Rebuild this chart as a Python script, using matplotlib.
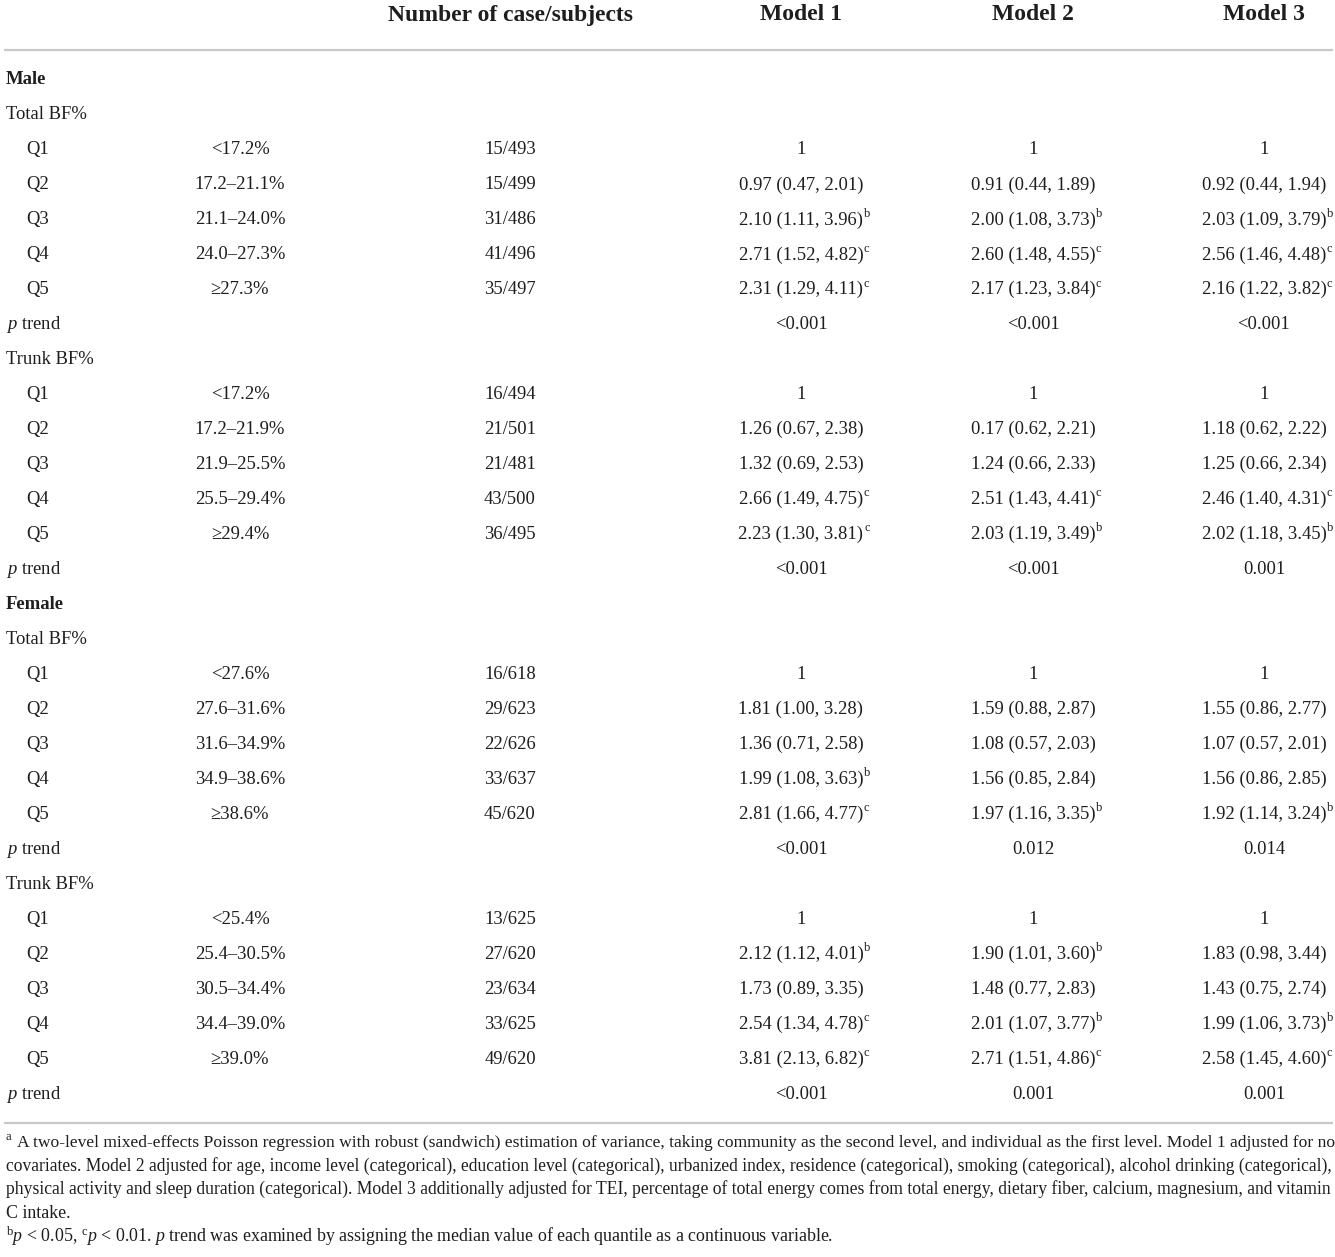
import matplotlib
matplotlib.use('Agg')
import matplotlib.pyplot as plt

plt.rcParams['font.family'] = ['Liberation Serif', 'DejaVu Serif']
plt.rcParams['mathtext.fontset'] = 'custom'
plt.rcParams['mathtext.rm'] = 'Liberation Serif'
plt.rcParams['mathtext.it'] = 'Liberation Serif:italic'
plt.rcParams['mathtext.bf'] = 'Liberation Serif:bold'

# ---------------- data ----------------
columns = ["Number of case/subjects", "Model 1", "Model 2", "Model 3"]
groups = ["Male", "Female"]
measures = ["Total BF%", "Trunk BF%"]
quintiles = ["Q1", "Q2", "Q3", "Q4", "Q5"]

male_total_ranges = ["<17.2%", "17.2–21.1%", "21.1–24.0%", "24.0–27.3%", "≥27.3%"]
male_total_cases = ["15/493", "15/499", "31/486", "41/496", "35/497"]
male_total_m1 = ["1", "0.97 (0.47, 2.01)", "2.10 (1.11, 3.96)^b", "2.71 (1.52, 4.82)^c", "2.31 (1.29, 4.11)^c"]
male_total_m2 = ["1", "0.91 (0.44, 1.89)", "2.00 (1.08, 3.73)^b", "2.60 (1.48, 4.55)^c", "2.17 (1.23, 3.84)^c"]
male_total_m3 = ["1", "0.92 (0.44, 1.94)", "2.03 (1.09, 3.79)^b", "2.56 (1.46, 4.48)^c", "2.16 (1.22, 3.82)^c"]
male_total_ptrend = ["<0.001", "<0.001", "<0.001"]

male_trunk_ranges = ["<17.2%", "17.2–21.9%", "21.9–25.5%", "25.5–29.4%", "≥29.4%"]
male_trunk_cases = ["16/494", "21/501", "21/481", "43/500", "36/495"]
male_trunk_m1 = ["1", "1.26 (0.67, 2.38)", "1.32 (0.69, 2.53)", "2.66 (1.49, 4.75)^c", "2.23 (1.30, 3.81)^c"]
male_trunk_m2 = ["1", "0.17 (0.62, 2.21)", "1.24 (0.66, 2.33)", "2.51 (1.43, 4.41)^c", "2.03 (1.19, 3.49)^b"]
male_trunk_m3 = ["1", "1.18 (0.62, 2.22)", "1.25 (0.66, 2.34)", "2.46 (1.40, 4.31)^c", "2.02 (1.18, 3.45)^b"]
male_trunk_ptrend = ["<0.001", "<0.001", "0.001"]

female_total_ranges = ["<27.6%", "27.6–31.6%", "31.6–34.9%", "34.9–38.6%", "≥38.6%"]
female_total_cases = ["16/618", "29/623", "22/626", "33/637", "45/620"]
female_total_m1 = ["1", "1.81 (1.00, 3.28)", "1.36 (0.71, 2.58)", "1.99 (1.08, 3.63)^b", "2.81 (1.66, 4.77)^c"]
female_total_m2 = ["1", "1.59 (0.88, 2.87)", "1.08 (0.57, 2.03)", "1.56 (0.85, 2.84)", "1.97 (1.16, 3.35)^b"]
female_total_m3 = ["1", "1.55 (0.86, 2.77)", "1.07 (0.57, 2.01)", "1.56 (0.86, 2.85)", "1.92 (1.14, 3.24)^b"]
female_total_ptrend = ["<0.001", "0.012", "0.014"]

female_trunk_ranges = ["<25.4%", "25.4–30.5%", "30.5–34.4%", "34.4–39.0%", "≥39.0%"]
female_trunk_cases = ["13/625", "27/620", "23/634", "33/625", "49/620"]
female_trunk_m1 = ["1", "2.12 (1.12, 4.01)^b", "1.73 (0.89, 3.35)", "2.54 (1.34, 4.78)^c", "3.81 (2.13, 6.82)^c"]
female_trunk_m2 = ["1", "1.90 (1.01, 3.60)^b", "1.48 (0.77, 2.83)", "2.01 (1.07, 3.77)^b", "2.71 (1.51, 4.86)^c"]
female_trunk_m3 = ["1", "1.83 (0.98, 3.44)", "1.43 (0.75, 2.74)", "1.99 (1.06, 3.73)^b", "2.58 (1.45, 4.60)^c"]
female_trunk_ptrend = ["<0.001", "0.001", "0.001"]

footnote_lines = [
    "A two-level mixed-effects Poisson regression with robust (sandwich) estimation of variance, taking community as the second level, and individual as the first level. Model 1 adjusted for no",
    "covariates. Model 2 adjusted for age, income level (categorical), education level (categorical), urbanized index, residence (categorical), smoking (categorical), alcohol drinking (categorical),",
    "physical activity and sleep duration (categorical). Model 3 additionally adjusted for TEI, percentage of total energy comes from total energy, dietary fiber, calcium, magnesium, and vitamin",
    "C intake.",
]
footnote_last = r"${}^{\mathrm{b}}p$ < 0.05, ${}^{\mathrm{c}}p$ < 0.01. $p$ trend was examined by assigning the median value of each quantile as a continuous variable."

blocks = [
    ("Male", "Total BF%", male_total_ranges, male_total_cases, [male_total_m1, male_total_m2, male_total_m3], male_total_ptrend),
    ("Male", "Trunk BF%", male_trunk_ranges, male_trunk_cases, [male_trunk_m1, male_trunk_m2, male_trunk_m3], male_trunk_ptrend),
    ("Female", "Total BF%", female_total_ranges, female_total_cases, [female_total_m1, female_total_m2, female_total_m3], female_total_ptrend),
    ("Female", "Trunk BF%", female_trunk_ranges, female_trunk_cases, [female_trunk_m1, female_trunk_m2, female_trunk_m3], female_trunk_ptrend),
]

# ---------------- layout ----------------
W, H = 1335, 1257
TXT = '#1e1e1e'
FS = 13.4
FS_HEAD = 17
FS_SUP = 9
FS_FOOT = 12.9

fig = plt.figure(figsize=(W / 100, H / 100), dpi=100)
ax = fig.add_axes([0, 0, 1, 1])
ax.set_xlim(0, W)
ax.set_ylim(H, 0)
ax.axis('off')

x_section = 6
x_q = 26
x_range = 240
x_cols = [510, 801, 1033, 1264]
y_head = 15
y_row0 = 80
dy = 34.97

for x, c in zip(x_cols, columns):
    ax.text(x, y_head, c, fontsize=FS_HEAD, fontweight='bold', ha='center', va='center', color=TXT)

ax.plot([4, 1333], [50, 50], color='#c8c8c8', lw=1.6, solid_capstyle='butt')
ax.plot([4, 1333], [1123, 1123], color='#c8c8c8', lw=1.6, solid_capstyle='butt')


def value_text(x, y, s):
    main, _, sup = s.partition('^')
    t = ax.text(x, y, main, fontsize=FS, ha='center', va='center', color=TXT)
    if sup:
        ax.annotate(sup, xy=(1, 1), xycoords=t, xytext=(0.4, 2.6), textcoords='offset points',
                    fontsize=FS_SUP, ha='left', va='top', color=TXT)


row = 0
last_group = None
for group, measure, ranges, cases, models, ptrend in blocks:
    if group != last_group:
        ax.text(x_section, y_row0 + dy * row, group, fontsize=FS, fontweight='bold', ha='left', va='center', color=TXT)
        row += 1
        last_group = group
    ax.text(x_section, y_row0 + dy * row, measure, fontsize=FS, ha='left', va='center', color=TXT)
    row += 1
    for i, q in enumerate(quintiles):
        y = y_row0 + dy * row
        ax.text(x_q, y, q, fontsize=FS, ha='left', va='center', color=TXT)
        ax.text(x_range, y, ranges[i], fontsize=FS, ha='center', va='center', color=TXT)
        ax.text(x_cols[0], y, cases[i], fontsize=FS, ha='center', va='center', color=TXT)
        for m in range(3):
            value_text(x_cols[m + 1], y, models[m][i])
        row += 1
    y = y_row0 + dy * row
    ax.text(x_section, y, r"$p$ trend", fontsize=FS, ha='left', va='center', color=TXT)
    for m in range(3):
        ax.text(x_cols[m + 1], y, ptrend[m], fontsize=FS, ha='center', va='center', color=TXT)
    row += 1

# ---------------- footnotes ----------------
renderer = fig.canvas.get_renderer()
foot_base = [1147, 1170.5, 1194, 1217.5, 1241.5]
ax.text(6, foot_base[0] - 7, "a", fontsize=FS_SUP, ha='left', va='baseline', color=TXT)


def fitted(line, y, x0, x1):
    # whole line as one text; size nudged so the line ends at the right margin (justified look)
    t = ax.text(x0, y, line, fontsize=FS_FOOT, ha='left', va='baseline', color=TXT)
    w = t.get_window_extent(renderer).width
    t.set_fontsize(FS_FOOT * (x1 - x0) / w)


fitted(footnote_lines[0], foot_base[0], 17, 1330)
fitted(footnote_lines[1], foot_base[1], 6, 1331)
fitted(footnote_lines[2], foot_base[2], 6, 1331)
ax.text(6, foot_base[3], footnote_lines[3], fontsize=FS_FOOT, ha='left', va='baseline', color=TXT)
ax.text(6, foot_base[4], footnote_last, fontsize=FS_FOOT, ha='left', va='baseline', color=TXT)

fig.savefig('out.png', dpi=100)
